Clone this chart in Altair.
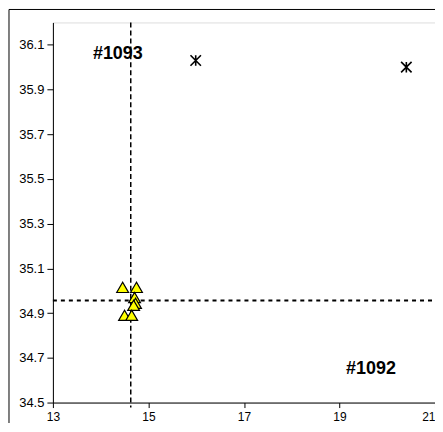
import altair as alt
import pandas as pd

# Data
tri_x = [14.46, 14.75, 14.71, 14.73, 14.69, 14.50, 14.65]
tri_y = [35.015, 35.015, 34.97, 34.944, 34.935, 34.89, 34.89]
star_x = [15.99, 20.40]
star_y = [36.03, 36.00]
vline_x = [14.63]
hline_y = [34.957]
label_text = ["#1093", "#1092"]
label_x = [14.36, 19.66]
label_y = [36.057, 34.65]
x_ticks = [13, 15, 17, 19, 21]
y_ticks = [34.5, 34.7, 34.9, 35.1, 35.3, 35.5, 35.7, 35.9, 36.1]

W, H = 383, 381
FONT = "Liberation Sans"

xs = alt.Scale(domain=[13, 21], nice=False, zero=False)
ys = alt.Scale(domain=[34.5, 36.2], nice=False, zero=False)

tri = pd.DataFrame({"x": tri_x, "y": tri_y})
star = pd.DataFrame({"x": star_x, "y": star_y})
vl = pd.DataFrame({"x": vline_x})
hl = pd.DataFrame({"y": hline_y})
lab = pd.DataFrame({"t": label_text, "x": label_x, "y": label_y})

xaxis = alt.Axis(values=x_ticks, title=None, grid=False, tickSize=5, labelFontSize=12,
                 labelFont=FONT, labelColor="black", tickColor="black", domainColor="black",
                 labelPadding=4, labelFlush=False, labelOverlap=False,
                 labelAlign={"condition": {"test": f"datum.value >= {x_ticks[-1]}", "value": "right"},
                             "value": "center"})
yaxis = alt.Axis(values=y_ticks, title=None, grid=False, tickSize=6, labelFontSize=13,
                 labelFont=FONT, labelColor="black", tickColor="black", domainColor="black",
                 labelPadding=3, format=".1f", labelOverlap=False, labelFlush=False)

base_axes = alt.Chart(tri).mark_point(opacity=0).encode(
    x=alt.X("x:Q", scale=xs, axis=xaxis),
    y=alt.Y("y:Q", scale=ys, axis=yaxis),
)

frame = alt.Chart(pd.DataFrame({"a": [0]})).mark_rect(
    fill=None, stroke="black", strokeWidth=1
).encode(
    x=alt.value(-44), x2=alt.value(W + 30), y=alt.value(-13), y2=alt.value(H + 40)
)

vrule = alt.Chart(vl).mark_rule(color="black", strokeWidth=1.5, strokeDash=[5, 3]).encode(
    x=alt.X("x:Q", scale=xs), y=alt.value(0), y2=alt.value(H + 5)
)
hrule = alt.Chart(hl).mark_rule(color="black", strokeWidth=2, strokeDash=[4, 4]).encode(
    y=alt.Y("y:Q", scale=ys), x=alt.value(0), x2=alt.value(W + 10)
)

tris = alt.Chart(tri).mark_point(
    shape="triangle-up", filled=True, fill="#FFFF00", stroke="black", strokeWidth=1.2,
    size=140, opacity=1
).encode(x=alt.X("x:Q", scale=xs), y=alt.Y("y:Q", scale=ys))

stars = alt.Chart(star).mark_point(
    shape="M-1,-1L1,1M-1,1L1,-1M0,-1L0,1", filled=False, stroke="black", strokeWidth=1.6,
    size=110, opacity=1
).encode(x=alt.X("x:Q", scale=xs), y=alt.Y("y:Q", scale=ys))

labels = alt.Chart(lab).mark_text(
    font=FONT, fontSize=18, fontWeight="bold", color="black", align="center", baseline="middle"
).encode(x=alt.X("x:Q", scale=xs), y=alt.Y("y:Q", scale=ys), text="t:N")

chart = alt.layer(base_axes, frame, vrule, hrule, tris, stars, labels).properties(
    width=W, height=H,
    autosize=alt.AutoSizeParams(type="none"),
    padding={"left": 45, "top": 14, "right": 0, "bottom": 20},
).configure_view(stroke="black", strokeWidth=1).configure(background="white")

chart.save("out.html", embed_options={"renderer": "svg", "actions": False})
